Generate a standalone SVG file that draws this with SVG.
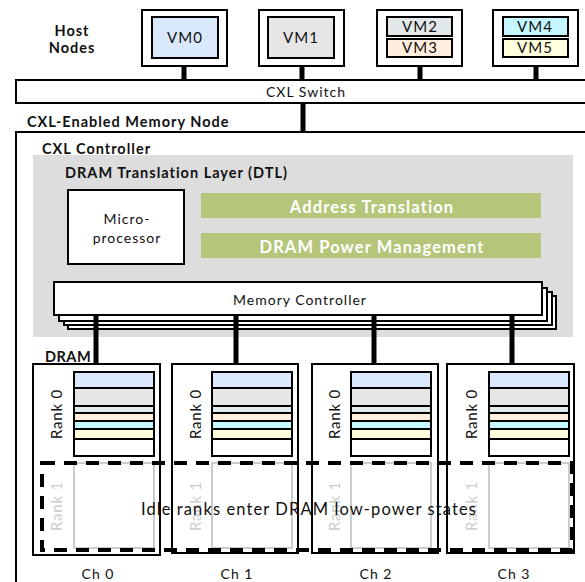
<svg xmlns="http://www.w3.org/2000/svg" width="585" height="582" viewBox="0 0 585 582">
<style>
text{font-family:Lato,"Open Sans","Liberation Sans",sans-serif;fill:#111;letter-spacing:1px}
.b{font-weight:bold;font-size:14.5px}
.r{font-size:14px}
.vm{font-size:15px;text-anchor:middle}
.c{text-anchor:middle}
.box{fill:#fff;stroke:#000;stroke-width:2}
.wire{stroke:#000;stroke-width:5}
.g{fill:#fff;font-weight:bold;font-size:16.5px;text-anchor:middle;letter-spacing:1.1px}
.lay{stroke:#000;stroke-width:2}
.r1{fill:none;stroke:#ccc;stroke-width:2}
.rk{font-size:15px;text-anchor:middle;letter-spacing:0.8px}
</style>
<rect width="585" height="582" fill="#fff"/>
<g id="hosts">
  <text class="b c" x="72" y="36">Host</text>
  <text class="b c" x="72" y="53">Nodes</text>
  <g id="host0"><rect class="box" x="142" y="10" width="85" height="56"/><rect x="152" y="17" width="66" height="41" fill="#dae8fc" stroke="#000" stroke-width="2"/><text class="vm" x="185" y="43">VM0</text></g>
  <g id="host1"><rect class="box" x="259" y="10" width="85" height="56"/><rect x="268" y="17" width="66" height="41" fill="#e6e6e6" stroke="#000" stroke-width="2"/><text class="vm" x="301" y="43">VM1</text></g>
  <g id="host2"><rect class="box" x="377" y="10" width="85" height="56"/><rect x="387" y="17" width="65" height="19" fill="#e3e8eb" stroke="#000" stroke-width="2"/><rect x="387" y="39" width="65" height="18" fill="#ffeedd" stroke="#000" stroke-width="2"/><text class="vm" x="420" y="32">VM2</text><text class="vm" x="420" y="53">VM3</text></g>
  <g id="host3"><rect class="box" x="493" y="10" width="85" height="56"/><rect x="503" y="17" width="65" height="19" fill="#c4f7ff" stroke="#000" stroke-width="2"/><rect x="503" y="39" width="65" height="18" fill="#ffffdd" stroke="#000" stroke-width="2"/><text class="vm" x="535" y="32">VM4</text><text class="vm" x="535" y="53">VM5</text></g>
</g>
<g id="switch"><rect class="box" x="16" y="80" width="580" height="23"/><text class="r c" x="306" y="97">CXL Switch</text></g>
<g id="memnode">
  <rect class="box" x="16" y="132" width="600" height="480"/>
  <text class="b" x="27" y="127">CXL-Enabled Memory Node</text>
  <text class="b" x="42" y="154">CXL Controller</text>
</g>
<g id="dtl">
  <rect x="33" y="155" width="540" height="182" fill="#dddddd"/>
  <text class="b" x="65" y="178">DRAM Translation Layer (DTL)</text>
</g>
<g id="micro"><rect class="box" x="68" y="190" width="116" height="74"/><text class="r c" x="127" y="224">Micro-</text><text class="r c" x="127" y="243">processor</text></g>
<g id="addr"><rect x="201" y="193" width="340" height="25" fill="#b5c67a"/><text class="g" x="372" y="213">Address Translation</text></g>
<g id="power"><rect x="201" y="233" width="340" height="25" fill="#b5c67a"/><text class="g" x="372" y="253">DRAM Power Management</text></g>
<g id="memctrl">
  <rect class="box" x="68" y="296" width="488" height="33"/>
  <rect class="box" x="64" y="292" width="488" height="33"/>
  <rect class="box" x="59" y="288" width="488" height="33"/>
  <rect class="box" x="54" y="282" width="488" height="33"/>
  <text class="r c" x="300" y="305">Memory Controller</text>
</g>
<g id="connectors">
  <line class="wire" x1="184" y1="66" x2="184" y2="80"/>
  <line class="wire" x1="302" y1="66" x2="302" y2="80"/>
  <line class="wire" x1="420" y1="66" x2="420" y2="80"/>
  <line class="wire" x1="536" y1="66" x2="536" y2="80"/>
  <line class="wire" x1="303" y1="103" x2="303" y2="132"/>
  <line class="wire" x1="96" y1="316" x2="96" y2="364"/>
  <line class="wire" x1="236" y1="316" x2="236" y2="364"/>
  <line class="wire" x1="374" y1="316" x2="374" y2="364"/>
  <line class="wire" x1="512" y1="316" x2="512" y2="364"/>
</g>
<text class="b" x="45" y="362" style="letter-spacing:0.5px">DRAM</text>
<defs>
  <g id="stack">
    <rect x="0" y="0" width="80" height="84" fill="#fff" stroke="#000" stroke-width="2"/>
    <rect class="lay" x="0" y="0" width="80" height="16" fill="#dae8fc"/>
    <rect class="lay" x="0" y="16" width="80" height="18" fill="#e6e6e6"/>
    <rect class="lay" x="0" y="34" width="80" height="7" fill="#e3e8eb"/>
    <rect class="lay" x="0" y="41" width="80" height="8" fill="#ffeedd"/>
    <rect class="lay" x="0" y="49" width="80" height="8" fill="#c4f7ff"/>
    <rect class="lay" x="0" y="57" width="80" height="10" fill="#ffffdd"/>
    <rect x="0" y="0" width="80" height="84" fill="none" stroke="#000" stroke-width="2"/>
  </g>
</defs>
<g id="ch0"><rect class="box" x="33" y="364" width="127" height="191"/><use href="#stack" x="74" y="372"/><rect class="r1" x="74" y="463" width="80" height="85"/><text class="rk" transform="translate(62,414) rotate(-90)">Rank 0</text><text class="rk" transform="translate(62,506) rotate(-90)" style="fill:#ccc">Rank 1</text><text class="r c" x="98" y="579">Ch 0</text></g>
<g id="ch1"><rect class="box" x="172" y="364" width="126" height="189"/><use href="#stack" x="212" y="372"/><rect class="r1" x="212" y="463" width="80" height="85"/><text class="rk" transform="translate(201,414) rotate(-90)">Rank 0</text><text class="rk" transform="translate(201,506) rotate(-90)" style="fill:#ccc">Rank 1</text><text class="r c" x="237" y="579">Ch 1</text></g>
<g id="ch2"><rect class="box" x="312" y="364" width="126" height="189"/><use href="#stack" x="351" y="372"/><rect class="r1" x="351" y="463" width="80" height="85"/><text class="rk" transform="translate(340,414) rotate(-90)">Rank 0</text><text class="rk" transform="translate(340,506) rotate(-90)" style="fill:#ccc">Rank 1</text><text class="r c" x="376" y="579">Ch 2</text></g>
<g id="ch3"><rect class="box" x="447" y="364" width="127" height="189"/><use href="#stack" x="489" y="372"/><rect class="r1" x="489" y="463" width="80" height="85"/><text class="rk" transform="translate(477,414) rotate(-90)">Rank 0</text><text class="rk" transform="translate(477,506) rotate(-90)" style="fill:#ccc">Rank 1</text><text class="r c" x="514" y="579">Ch 3</text></g>
<g id="idle">
  <rect x="42" y="463" width="530" height="87" fill="none" stroke="#000" stroke-width="4" stroke-dasharray="13 9"/>
  <text x="309" y="515" style="font-size:16.5px;text-anchor:middle;letter-spacing:1.1px">Idle ranks enter DRAM low-power states</text>
</g>
</svg>
